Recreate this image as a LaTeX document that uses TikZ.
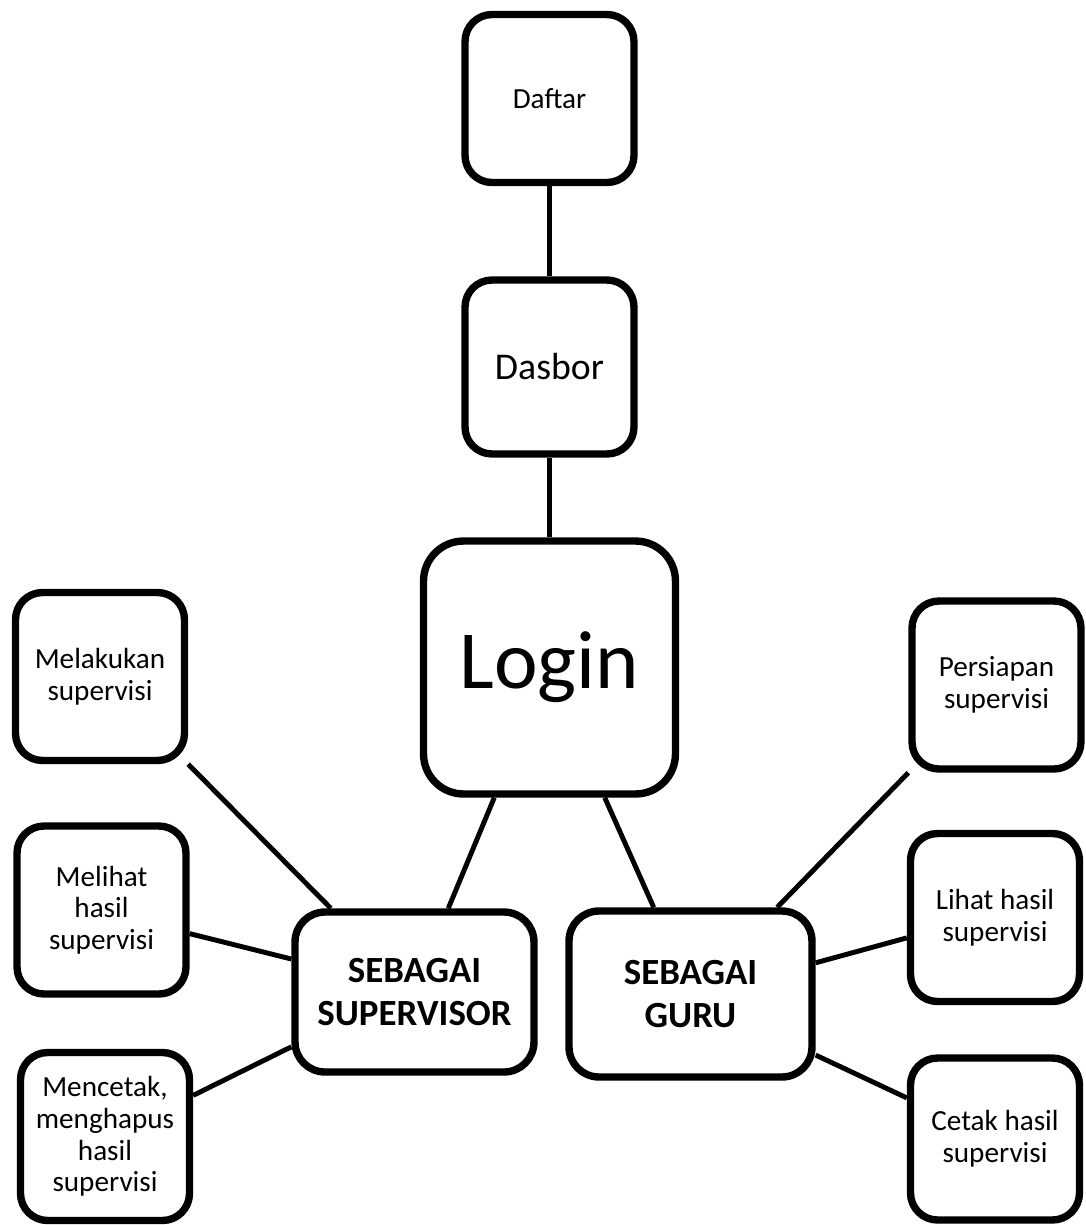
\documentclass[tikz,border=0pt]{standalone}
\usepackage{fontspec}
\setmainfont{Carlito}
\usetikzlibrary{shadows}

\begin{document}
\begin{tikzpicture}[x=0.02cm, y=-0.02cm,
    box/.style={draw, line width=4.2pt, rounded corners=5.4mm, fill=white, align=center, inner sep=0pt,
        font=\fontsize{16.6}{18}\selectfont,
        drop shadow={opacity=0.2, shadow xshift=0.3mm, shadow yshift=-0.7mm}},
    menu/.style={box, minimum width=3.38cm, minimum height=3.36cm},
    role/.style={box, rounded corners=6mm, font=\fontsize{21}{24}\selectfont\bfseries},
    link/.style={line width=2.8pt}
    ]

    \useasboundingbox (0,0) rectangle (1086,1225);

    % alur utama
    \node[menu] (daftar) at (549.5,98.5) {Daftar};
    \node[menu, minimum height=3.48cm, font=\fontsize{21.5}{24}\selectfont] (dasbor) at (549.5,367) {Dasbor};
    \node[box, rounded corners=8mm, minimum width=5.04cm, minimum height=5.06cm, font=\fontsize{47}{50}\selectfont] (login) at (549.5,667.5) {Login};

    % peran
    \node[role, minimum width=4.78cm, minimum height=3.2cm] (supervisor) at (414.5,992) {SEBAGAI\\SUPERVISOR};
    \node[role, minimum width=4.86cm, minimum height=3.32cm] (guru) at (690.5,994) {SEBAGAI\\GURU};

    % menu supervisor
    \node[menu] (melakukan) at (100,676.5) {Melakukan\\supervisi};
    \node[menu] (melihat) at (101.5,910) {Melihat\\hasil\\supervisi};
    \node[menu] (mencetak) at (105,1136.5) {Mencetak,\\menghapus\\hasil\\supervisi};

    % menu guru
    \node[menu] (persiapan) at (996.5,685) {Persiapan\\supervisi};
    \node[menu] (lihat) at (995,917.5) {Lihat hasil\\supervisi};
    \node[menu, minimum height=3.24cm] (cetak) at (995,1139) {Cetak hasil\\supervisi};

    \draw[link] (daftar.south)--(dasbor.north);
    \draw[link] (dasbor.south)--(login.north);
    \draw[link] (login.247.4)--(supervisor.68);
    \draw[link] (login.293.4)--(guru.113);
    %
    \draw[link] (melakukan.south east)--(supervisor.135);
    \draw[link] (melihat.345.4)--(supervisor.165.4);
    \draw[link] (mencetak.25.2)--(supervisor.204.6);
    %
    \draw[link] (persiapan.south west)--(guru.45.5);
    \draw[link] (lihat.193.1)--(guru.14);
    \draw[link] (cetak.155)--(guru.334.6);
\end{tikzpicture}
\end{document}
